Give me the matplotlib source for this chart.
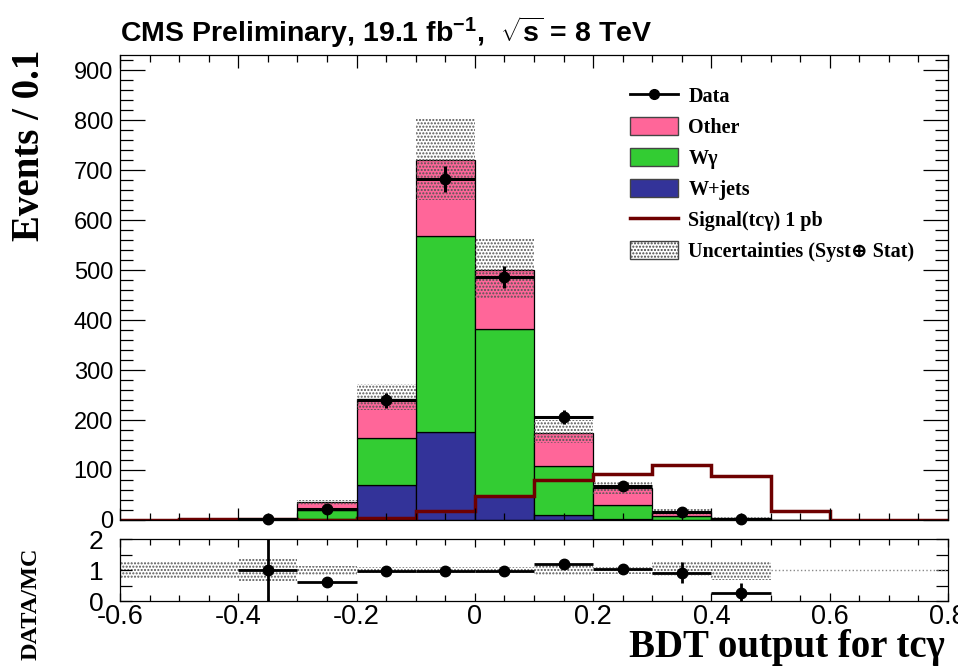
#%%
import numpy as np
import matplotlib
matplotlib.use('Agg')
import matplotlib.pyplot as plt
from matplotlib.patches import Patch
from matplotlib.lines import Line2D

plt.rcParams['axes.unicode_minus'] = False
plt.rcParams['hatch.linewidth'] = 1.0
plt.rcParams['mathtext.fontset'] = 'custom'
plt.rcParams['mathtext.rm'] = 'Liberation Sans:bold'
plt.rcParams['mathtext.bf'] = 'Liberation Sans:bold'
plt.rcParams['mathtext.it'] = 'Liberation Sans:bold'
plt.rcParams['font.family'] = ['Liberation Sans', 'DejaVu Sans']

#%% data (bins of 0.1 in BDT output)
edges = [-0.6, -0.5, -0.4, -0.3, -0.2, -0.1, 0.0, 0.1, 0.2, 0.3, 0.4, 0.5, 0.6, 0.7, 0.8]
wjets  = [0, 0, 0.3, 2, 70, 177, 47, 9, 1, 0.5, 0.3, 0, 0, 0]
wgamma = [0, 0.5, 0.3, 18, 95, 391, 336, 98, 29, 7, 1.5, 0, 0, 0]
other  = [0.5, 0.5, 0.4, 15, 78, 153, 118, 68, 33, 8, 1.5, 0, 0, 0]
unc_lo = [0.3, 0.5, 0.5, 30, 220, 640, 443, 155, 52, 10, 2, 0, 0, 0]
unc_hi = [1, 1.5, 1.5, 40, 273, 803, 563, 200, 75, 21, 5, 0, 0, 0]
signal = [0.5, 1, 1, 0.3, 3, 17, 47, 79, 92, 109, 88, 18, 0.5, 0.5]
data     = [np.nan, np.nan, 1, 22, 240, 682, 487, 207, 68, 15, 1, np.nan, np.nan, np.nan]
data_err = [np.nan, np.nan, 1, 5, 15, 26, 22, 14, 8, 4, 1, np.nan, np.nan, np.nan]

ratio     = [np.nan, np.nan, 1.0, 0.62, 0.98, 0.97, 0.97, 1.2, 1.05, 0.92, 0.25, np.nan, np.nan, np.nan]
ratio_err = [np.nan, np.nan, 1.5, 0.12, 0.07, 0.05, 0.06, 0.1, 0.14, 0.33, 0.33, np.nan, np.nan, np.nan]
ratio_lo  = [0.73, 0.73, 0.66, 0.85, 0.9, 0.9, 0.9, 0.85, 0.88, 0.8, 0.68, 1, 1, 1]
ratio_hi  = [1.27, 1.27, 1.35, 1.14, 1.1, 1.1, 1.1, 1.17, 1.1, 1.25, 1.26, 1, 1, 1]

xticks = [-0.6, -0.4, -0.2, 0, 0.2, 0.4, 0.6, 0.8]
xticklabels = ['-0.6', '-0.4', '-0.2', '0', '0.2', '0.4', '0.6', '0.8']

# colours
c_other = '#ff6699'
c_wg = '#33cc33'
c_wj = '#333399'
c_sig = '#6e0000'
c_dots = '#555555'

#%% arrays
edges = np.array(edges)
left = edges[:-1]
w = np.diff(edges)
cen = left + w / 2
wjets = np.array(wjets); wgamma = np.array(wgamma); other = np.array(other)
unc_lo = np.array(unc_lo); unc_hi = np.array(unc_hi)
ratio_lo = np.array(ratio_lo); ratio_hi = np.array(ratio_hi)

fig = plt.figure(figsize=(9.58, 6.67), dpi=100)
ax = fig.add_axes([0.12526, 0.22039, 0.86430, 0.69715])
rx = fig.add_axes([0.12526, 0.09895, 0.86430, 0.09250])

#%% main panel
ax.bar(left, wjets, width=w, align='edge', color=c_wj, edgecolor='k', lw=0.9)
ax.bar(left, wgamma, width=w, bottom=wjets, align='edge', color=c_wg, edgecolor='k', lw=0.9)
ax.bar(left, other, width=w, bottom=wjets + wgamma, align='edge', color=c_other, edgecolor='k', lw=0.9)
ax.bar(left, unc_hi - unc_lo, width=w, bottom=unc_lo, align='edge', facecolor='none',
       edgecolor=c_dots, hatch='.....', lw=0)
ax.stairs(signal, edges, baseline=None, color=c_sig, lw=2.5)
ax.errorbar(cen, data, xerr=w / 2, yerr=data_err, fmt='o', color='k', ms=7.5,
            elinewidth=2.2, capsize=0, clip_on=False, zorder=5)

ax.set_xlim(-0.6, 0.8)
ax.set_ylim(0, 930)
ax.set_xticks(xticks)
ax.set_xticks(np.arange(-0.6, 0.801, 0.05), minor=True)
ax.set_yticks(np.arange(0, 901, 100))
ax.set_yticks(np.arange(0, 921, 20), minor=True)
ax.tick_params(axis='x', labelbottom=False)
ax.tick_params(which='both', direction='in', top=True, right=True, width=0.9)
ax.tick_params(axis='y', which='major', length=18, labelsize=17, pad=5)
ax.tick_params(axis='y', which='minor', length=9.5)
ax.tick_params(axis='x', which='major', length=9)
ax.tick_params(axis='x', which='minor', length=5)
for s in ax.spines.values():
    s.set_linewidth(0.9)

# legend
serif_b = dict(family=['Liberation Serif', 'DejaVu Serif'], weight='bold')
handles = [
    Line2D([], [], color='k', lw=2, marker='o', ms=7),
    Patch(facecolor=c_other, edgecolor='#444444', lw=1),
    Patch(facecolor=c_wg, edgecolor='#444444', lw=1),
    Patch(facecolor=c_wj, edgecolor='#444444', lw=1),
    Line2D([], [], color=c_sig, lw=2.5),
    Patch(facecolor='white', edgecolor='#444444', hatch='.....', lw=1),
]
labels = ['Data', 'Other', 'W\u03b3', 'W+jets', 'Signal(tc\u03b3) 1 pb',
          'Uncertainties (Syst\u2295 Stat)']
leg = ax.legend(handles, labels, loc='upper left', bbox_to_anchor=(630 / 958, 1 - 86 / 667),
                bbox_transform=fig.transFigure, frameon=False, borderpad=0, borderaxespad=0,
                handlelength=2.4, handleheight=1.0, handletextpad=0.5, labelspacing=0.5,
                prop=dict(size=14.5, **serif_b))

#%% ratio panel
rx.bar(left, ratio_hi - ratio_lo, width=w, bottom=ratio_lo, align='edge', facecolor='none',
       edgecolor=c_dots, hatch='.....', lw=0)
flat = ratio_hi == ratio_lo
rx.hlines(ratio_lo[flat], left[flat], left[flat] + w[flat], colors='#888888', linestyles=':', lw=1)
rx.errorbar(cen, ratio, xerr=w / 2, yerr=ratio_err, fmt='o', color='k', ms=7.5,
            elinewidth=2, capsize=0, zorder=5)
rx.set_xlim(-0.6, 0.8)
rx.set_ylim(0, 2)
rx.set_xticks(xticks)
rx.set_xticklabels(xticklabels)
rx.set_xticks(np.arange(-0.6, 0.801, 0.05), minor=True)
rx.set_yticks([0, 1, 2])
rx.set_yticks([0.5, 1.5], minor=True)
rx.tick_params(which='both', direction='in', top=True, right=True, width=0.9)
rx.tick_params(axis='y', which='both', length=8.5, labelsize=19, pad=12)
rx.tick_params(axis='x', which='major', length=6, labelsize=19.5, pad=2)
rx.tick_params(axis='x', which='minor', length=4)
for s in rx.spines.values():
    s.set_linewidth(0.9)

#%% texts
fig.text(120 / 958, 1 - 42 / 667, r'CMS Preliminary, 19.1 fb$^{\mathbf{-1}}$,  $\sqrt{\mathbf{s}}$ = 8 TeV',
         fontsize=20.5, fontweight='bold', ha='left', va='baseline')
fig.text(30 / 958, 1 - 50 / 667, 'Events / 0.1', rotation=90, ha='center', va='top',
         fontsize=28, **serif_b)
fig.text(31 / 958, 1 - 548 / 667, 'DATA/MC', rotation=90, ha='center', va='top',
         fontsize=17.5, **serif_b)
fig.text(945 / 958, 1 - 657 / 667, 'BDT output for tc\u03b3', ha='right', va='baseline',
         fontsize=28, **serif_b)

fig.savefig('out.png', dpi=100)
